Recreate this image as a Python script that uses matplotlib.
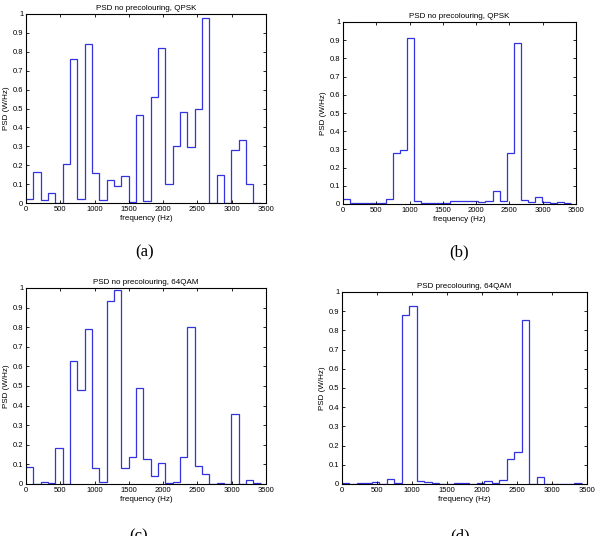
import numpy as np
import matplotlib
matplotlib.use("Agg")
import matplotlib.pyplot as plt

plt.rcParams['font.family'] = ['Liberation Sans', 'DejaVu Sans']

bin_width = 107.0
n_bins = 32
freq_edges = np.arange(n_bins + 1) * bin_width

psd_a = [0.022, 0.165, 0.015, 0.055, 0.002, 0.205, 0.76, 0.022, 0.84, 0.16,
         0.018, 0.12, 0.088, 0.145, 0.003, 0.465, 0.012, 0.56, 0.822, 0.098,
         0.30, 0.482, 0.295, 0.495, 0.978, 0.0, 0.15, 0.0, 0.278, 0.335,
         0.102, 0.0]
psd_b = [0.025, 0.003, 0.005, 0.003, 0.007, 0.005, 0.025, 0.28, 0.295, 0.91,
         0.015, 0.005, 0.005, 0.007, 0.003, 0.018, 0.018, 0.017, 0.018, 0.01,
         0.018, 0.07, 0.015, 0.278, 0.885, 0.02, 0.01, 0.04, 0.01, 0.003,
         0.013, 0.003]
psd_c = [0.088, 0.0, 0.012, 0.007, 0.182, 0.0, 0.63, 0.48, 0.79, 0.082,
         0.01, 0.935, 0.99, 0.08, 0.138, 0.49, 0.13, 0.04, 0.105, 0.005,
         0.012, 0.14, 0.80, 0.092, 0.052, 0.0, 0.003, 0.0, 0.358, 0.0,
         0.018, 0.005]
psd_d = [0.003, 0.0, 0.005, 0.003, 0.01, 0.002, 0.025, 0.005, 0.88, 0.928,
         0.015, 0.008, 0.007, 0.0, 0.002, 0.005, 0.006, 0.0, 0.005, 0.015,
         0.005, 0.02, 0.132, 0.168, 0.853, 0.0, 0.035, 0.0, 0.0, 0.0,
         0.0, 0.005]

titles = ["PSD no precolouring, QPSK", "PSD no precolouring, QPSK",
          "PSD no precolouring, 64QAM", "PSD precolouring, 64QAM"]
captions = ["(a)", "(b)", "(c)", "(d)"]
xticks = [0, 500, 1000, 1500, 2000, 2500, 3000, 3500]
yticks = [0, 0.1, 0.2, 0.3, 0.4, 0.5, 0.6, 0.7, 0.8, 0.9, 1]
ytick_labels = ["0", "0.1", "0.2", "0.3", "0.4", "0.5", "0.6", "0.7", "0.8", "0.9", "1"]

W, H = 595, 536
fig = plt.figure(figsize=(W / 100, H / 100), dpi=100)

# pixel boxes: left, right, top, bottom
boxes = [(26, 266, 14, 203), (343, 576, 22, 204), (26, 266, 288, 484), (342, 587, 292, 484)]
caption_pos = [(145, 252), (459, 252), (139, 536), (460, 536)]

for data, title, cap, box, cpos in zip([psd_a, psd_b, psd_c, psd_d], titles, captions, boxes, caption_pos):
    l, r, t, b = box
    ax = fig.add_axes([l / W, 1 - b / H, (r - l) / W, (b - t) / H])
    ax.stairs(data, freq_edges, color="#3333dd", linewidth=0.9, baseline=None)
    ax.set_xlim(0, 3500)
    ax.set_ylim(0, 1)
    ax.set_xticks(xticks)
    ax.set_yticks(yticks)
    ax.set_yticklabels(ytick_labels)
    ax.tick_params(direction="in", top=True, right=True, length=2.5, width=0.6,
                   labelsize=5.5, pad=2)
    for s in ax.spines.values():
        s.set_linewidth(0.8)
    ax.set_title(title, fontsize=5.8, pad=3)
    ax.set_xlabel("frequency (Hz)", fontsize=5.8, labelpad=1.5)
    ax.set_ylabel("PSD (W/Hz)", fontsize=5.8, labelpad=2)
    fig.text(cpos[0] / W, 1 - cpos[1] / H, cap, family="Liberation Serif",
             fontsize=12, ha="center", va="center")

fig.savefig("out.png", dpi=100)
